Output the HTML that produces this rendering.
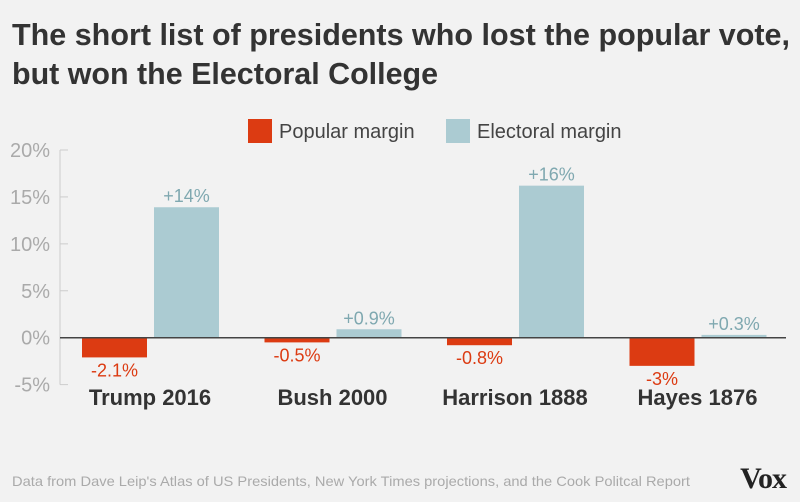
<!DOCTYPE html>
<html><head><meta charset="utf-8"><style>
body{margin:0;background:#f2f2f2;font-family:"Liberation Sans",sans-serif;}
#c{position:relative;width:800px;height:502px;overflow:hidden;background:#f2f2f2}
</style></head><body>
<div id="c">
<svg width="800" height="502">
<text x="12" y="45" font-size="31" font-weight="bold" fill="#333" textLength="778" lengthAdjust="spacingAndGlyphs">The short list of presidents who lost the popular vote,</text>
<text x="12" y="84" font-size="31" font-weight="bold" fill="#333" textLength="426" lengthAdjust="spacingAndGlyphs">but won the Electoral College</text>
<rect x="248" y="119" width="24" height="24" fill="#dc3b12"/>
<text x="279" y="138" font-size="20" fill="#444">Popular margin</text>
<rect x="446" y="119" width="24" height="24" fill="#abcbd2"/>
<text x="477" y="138" font-size="20" fill="#444">Electoral margin</text>
<g id="plot"></g>
<text x="12" y="486" font-size="14" fill="#aaa" textLength="678" lengthAdjust="spacingAndGlyphs">Data from Dave Leip's Atlas of US Presidents, New York Times projections, and the Cook Politcal Report</text>
<text x="786" y="488" font-size="30" font-weight="bold" font-family="Liberation Serif,serif" fill="#222" text-anchor="end" letter-spacing="-1">Vox</text>
</svg>
</div>
<script>
const categories=["Trump 2016","Bush 2000","Harrison 1888","Hayes 1876"];
const popular=[-2.1,-0.5,-0.8,-3];
const electoral=[13.9,0.9,16.2,0.3];
const popularLabels=["-2.1%","-0.5%","-0.8%","-3%"];
const electoralLabels=["+14%","+0.9%","+16%","+0.3%"];
const ticks=[20,15,10,5,0,-5];
const NS="http://www.w3.org/2000/svg";
const g=document.getElementById('plot');
const y=v=>337.7-v*9.385;
const gx=i=>82+i*182.5;
const bw=65;
function el(t,a,txt){const e=document.createElementNS(NS,t);for(const k in a)e.setAttribute(k,a[k]);if(txt!==undefined)e.textContent=txt;g.appendChild(e);return e;}
let ax=el('line',{x1:60,x2:60,y1:y(20),y2:y(-5),stroke:'#ccc','stroke-width':1});


ticks.forEach(t=>{
 let l=el('line',{x1:60,x2:68,y1:y(t),y2:y(t),stroke:'#ccc'});
 
 
 let tx=el('text',{x:50,y:y(t)+7,'font-size':20,fill:'#aaa','text-anchor':'end'},t+'%');
 
 
});
categories.forEach((c,i)=>{
 const x0=gx(i),x1=x0+72;
 const p=popular[i],e=electoral[i];
 let r=el('rect',{x:x0,y:y(Math.max(0,p)),width:bw,height:Math.abs(y(p)-y(0)),fill:'#dc3b12'});
 
 
 let b=el('rect',{x:x1,y:y(Math.max(0,e)),width:bw,height:Math.abs(y(e)-y(0)),fill:'#abcbd2'});
 
 
 let pl=el('text',{x:x0+bw/2,y:y(p)+19,'font-size':18,fill:'#dc3b12','text-anchor':'middle'},popularLabels[i]);
 
 
 let el2=el('text',{x:x1+bw/2,y:y(e)-5,'font-size':18,fill:'#7fa8b0','text-anchor':'middle'},electoralLabels[i]);
 
 
 let cl=el('text',{x:x0+68,y:405,'font-size':22,'font-weight':'bold',fill:'#333','text-anchor':'middle'},c);
 
 
});
let z=el('line',{x1:60,x2:786,y1:y(0),y2:y(0),stroke:'#444','stroke-width':1.5});


</script>
</body></html>
